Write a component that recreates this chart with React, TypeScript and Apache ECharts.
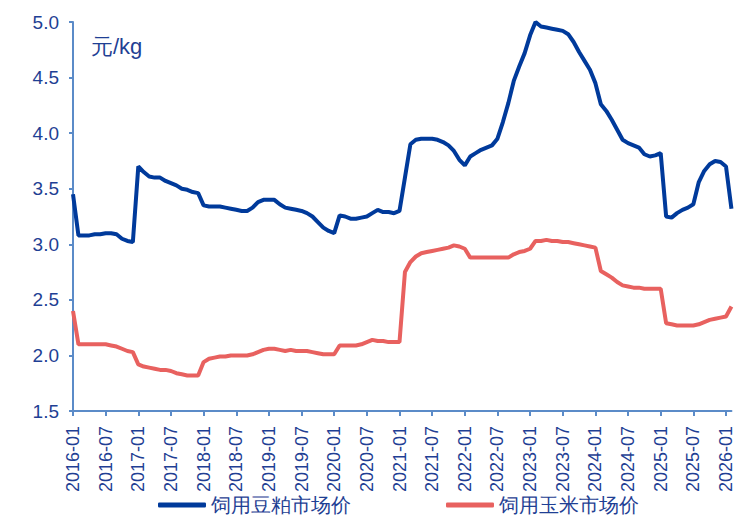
import React, { useEffect, useRef } from "react";
import * as echarts from "echarts";

const startYear = 2016;
const monthCount = 122; // 2016-01 .. 2026-02
const months: string[] = [];
for (let i = 0; i < monthCount; i++) {
  const y = startYear + Math.floor(i / 12);
  const m = (i % 12) + 1;
  months.push(`${y}-${m < 10 ? "0" + m : m}`);
}

const soymealName = "饲用豆粕市场价";
const cornName = "饲用玉米市场价";
const unitLabel = "元/kg";

const soymeal = [
  3.45, 3.08, 3.08, 3.08, 3.09, 3.09, 3.10, 3.10, 3.09, 3.05, 3.03, 3.02,
  3.70, 3.65, 3.61, 3.60, 3.60, 3.57, 3.55, 3.53, 3.50, 3.49, 3.47, 3.46,
  3.35, 3.34, 3.34, 3.34, 3.33, 3.32, 3.31, 3.30, 3.30, 3.33, 3.38, 3.40,
  3.40, 3.40, 3.36, 3.33, 3.32, 3.31, 3.30, 3.28, 3.25, 3.20, 3.15, 3.12,
  3.10, 3.26, 3.25, 3.23, 3.23, 3.24, 3.25, 3.28, 3.31, 3.29, 3.29, 3.28,
  3.30, 3.60, 3.90, 3.94, 3.95, 3.95, 3.95, 3.94, 3.92, 3.89, 3.84, 3.76,
  3.71, 3.79, 3.82, 3.85, 3.87, 3.89, 3.95, 4.10, 4.27, 4.47, 4.60, 4.72,
  4.88, 5.00, 4.96, 4.95, 4.94, 4.93, 4.92, 4.89, 4.82, 4.73, 4.65, 4.57,
  4.45, 4.26, 4.20, 4.12, 4.03, 3.94, 3.91, 3.89, 3.87, 3.81, 3.79, 3.80,
  3.82, 3.25, 3.24, 3.28, 3.31, 3.33, 3.36, 3.56, 3.66, 3.72, 3.75, 3.74,
  3.70, 3.32,
];

const corn = [
  2.40, 2.10, 2.10, 2.10, 2.10, 2.10, 2.10, 2.09, 2.08, 2.06, 2.04, 2.03,
  1.92, 1.90, 1.89, 1.88, 1.87, 1.87, 1.86, 1.84, 1.83, 1.82, 1.82, 1.82,
  1.94, 1.97, 1.98, 1.99, 1.99, 2.00, 2.00, 2.00, 2.00, 2.01, 2.03, 2.05,
  2.06, 2.06, 2.05, 2.04, 2.05, 2.04, 2.04, 2.04, 2.03, 2.02, 2.01, 2.01,
  2.01, 2.09, 2.09, 2.09, 2.09, 2.10, 2.12, 2.14, 2.13, 2.13, 2.12, 2.12,
  2.12, 2.75, 2.84, 2.89, 2.92, 2.93, 2.94, 2.95, 2.96, 2.97, 2.99, 2.98,
  2.96, 2.88, 2.88, 2.88, 2.88, 2.88, 2.88, 2.88, 2.88, 2.91, 2.93, 2.94,
  2.96, 3.03, 3.03, 3.04, 3.03, 3.03, 3.02, 3.02, 3.01, 3.00, 2.99, 2.98,
  2.97, 2.76, 2.73, 2.70, 2.66, 2.63, 2.62, 2.61, 2.61, 2.60, 2.60, 2.60,
  2.60, 2.29, 2.28, 2.27, 2.27, 2.27, 2.27, 2.28, 2.30, 2.32, 2.33, 2.34,
  2.35, 2.44,
];

const blue = "#003A9B";
const red = "#E8615F";
const axisColor = "#5B8BC8";
const textColor = "#1F3F94";
const font = "Liberation Sans, Arial, sans-serif";

export default function App() {
  const ref = useRef<HTMLDivElement>(null);
  useEffect(() => {
    if (!ref.current) return;
    const chart = echarts.init(ref.current, null, { renderer: "svg" });
    chart.setOption({
      animation: false,
      backgroundColor: "#ffffff",
      grid: { left: 73, right: 2, top: 22, bottom: 109 },
      legend: {
        top: 495,
        left: 158,
        itemGap: 95,
        itemWidth: 48,
        itemHeight: 5,
        icon: "roundRect",
        padding: 0,
        textStyle: { color: textColor, fontSize: 19.5, fontFamily: font },
        data: [soymealName, cornName],
      },
      graphic: [
        {
          type: "text",
          left: 91,
          top: 35,
          style: { text: unitLabel, fill: textColor, fontSize: 22, fontFamily: font },
        },
      ],
      xAxis: {
        type: "category",
        data: months,
        boundaryGap: false,
        axisLine: { show: true, lineStyle: { color: axisColor, width: 2 } },
        axisTick: { show: true, interval: 5, length: 5, lineStyle: { color: axisColor, width: 2 } },
        axisLabel: {
          interval: 5,
          rotate: 90,
          margin: 15,
          color: textColor,
          fontSize: 18,
          fontFamily: font,
        },
        splitLine: { show: false },
      },
      yAxis: {
        type: "value",
        min: 1.5,
        max: 5.0,
        interval: 0.5,
        axisLine: { show: true, lineStyle: { color: axisColor, width: 2 } },
        axisTick: { show: true, length: 4, lineStyle: { color: axisColor, width: 2 } },
        axisLabel: {
          color: textColor,
          fontSize: 19,
          fontFamily: font,
          margin: 14,
          formatter: (v: number) => v.toFixed(1),
        },
        splitLine: { show: false },
      },
      series: [
        {
          name: soymealName,
          type: "line",
          data: soymeal,
          showSymbol: false,
          symbol: "none",
          lineStyle: { color: blue, width: 4 },
          itemStyle: { color: blue },
        },
        {
          name: cornName,
          type: "line",
          data: corn,
          showSymbol: false,
          symbol: "none",
          lineStyle: { color: red, width: 4 },
          itemStyle: { color: red },
        },
      ],
    });
    return () => chart.dispose();
  }, []);
  return <div ref={ref} style={{ width: 735, height: 520, position: "absolute", left: 0, top: 0 }} />;
}
